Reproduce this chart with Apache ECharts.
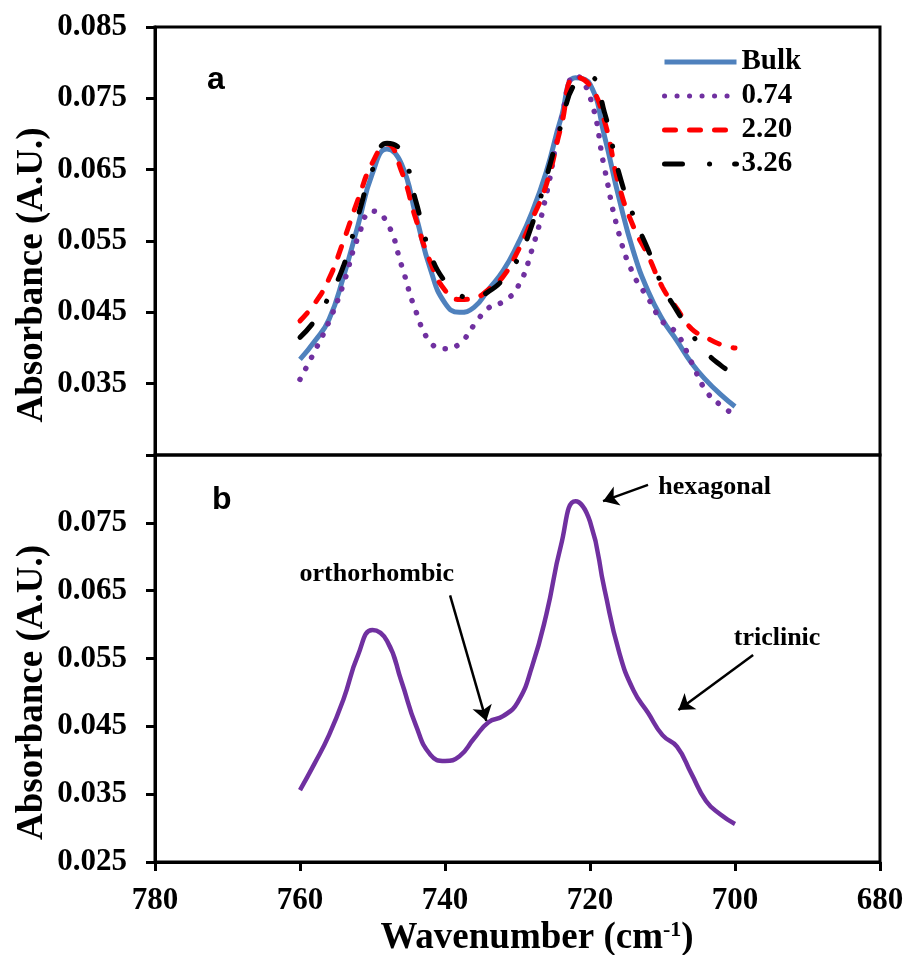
<!DOCTYPE html>
<html>
<head>
<meta charset="utf-8">
<script src="https://cdn.jsdelivr.net/npm/echarts@6/dist/echarts.min.js"></script>
<style>
  html, body { margin: 0; padding: 0; background: #fff; }
  #chart { width: 907px; height: 955px; }
</style>
</head>
<body>
<div id="chart"></div>
<script>
// Wavenumber grid (cm-1) shared by every spectrum
const wavenumbers = [760, 758, 756, 754, 752, 750, 748, 746, 744, 742, 740, 738, 736, 734, 732, 730,
                     728, 726, 724, 722, 720, 718, 716, 714, 712, 710, 708, 706, 704, 702, 700];

// Absorbance of each sample
const bulk = [0.0384, 0.0409, 0.0440, 0.0500, 0.0572, 0.0645, 0.0679, 0.0658, 0.0585, 0.0510, 0.0463,
              0.0450, 0.0457, 0.0482, 0.0508, 0.0545, 0.0590, 0.0648, 0.0722, 0.0779, 0.0770, 0.0697,
              0.0610, 0.0535, 0.0480, 0.0440, 0.0410, 0.0379, 0.0355, 0.0335, 0.0318];
const s074 = [0.0356, 0.0395, 0.0437, 0.0490, 0.0555, 0.0592, 0.0576, 0.0516, 0.0451, 0.0408, 0.0399,
              0.0406, 0.0432, 0.0456, 0.0465, 0.0485, 0.0538, 0.0616, 0.0717, 0.0782, 0.0752, 0.0652,
              0.0560, 0.0503, 0.0470, 0.0437, 0.0420, 0.0380, 0.0340, 0.0320, 0.0306];
const s220 = [0.0438, 0.0462, 0.0497, 0.0550, 0.0608, 0.0660, 0.0686, 0.0648, 0.0580, 0.0520, 0.0481,
              0.0468, 0.0470, 0.0482, 0.0500, 0.0535, 0.0580, 0.0630, 0.0710, 0.0780, 0.0768, 0.0718,
              0.0628, 0.0570, 0.0530, 0.0485, 0.0455, 0.0427, 0.0415, 0.0405, 0.0400];
const s326 = [0.0415, 0.0438, 0.0472, 0.0515, 0.0585, 0.0650, 0.0687, 0.0675, 0.0605, 0.0532, 0.0493,
              0.0474, 0.0470, 0.0479, 0.0496, 0.0524, 0.0573, 0.0640, 0.0712, 0.0772, 0.0780, 0.0730,
              0.0645, 0.0585, 0.0538, 0.0487, 0.0452, 0.0420, 0.0394, 0.0376, 0.0362];

const seriesNames = ['Bulk', '0.74', '2.20', '3.26'];

// Axis ticks
const xTicks = [780, 760, 740, 720, 700, 680];
const yTicks = [0.025, 0.035, 0.045, 0.055, 0.065, 0.075, 0.085];

// Crystal phase annotations for panel b
const phaseNames = ['hexagonal', 'orthorhombic', 'triclinic'];
const phaseLabelAt = [[702.8, 0.0803], [749.4, 0.0674], [694.2, 0.0580]];
const arrowFrom = [[712.0, 0.0806], [739.3, 0.0643], [697.5, 0.0555]];
const arrowTo = [[718.2, 0.0782], [734.3, 0.0458], [707.8, 0.0474]];

const SERIF = 'Liberation Serif, Times New Roman, serif';
const toPairs = (ys) => wavenumbers.map((w, i) => [w, ys[i]]);

const xStep = xTicks[0] - xTicks[1];
const yStep = +(yTicks[1] - yTicks[0]).toFixed(4);
const tickFont = { color: '#000', fontFamily: SERIF, fontWeight: 'bold', fontSize: 31 };
const axisLineStyle = { color: '#000', width: 3 };

function yAxisFor(gridIndex, hidden) {
  return {
    type: 'value', gridIndex,
    min: yTicks[0], max: yTicks[yTicks.length - 1], interval: yStep,
    axisLine: { show: true, lineStyle: axisLineStyle },
    axisTick: { show: true, inside: false, length: 9, lineStyle: axisLineStyle },
    splitLine: { show: false },
    axisLabel: Object.assign({
      margin: 28,
      formatter: (v) => (Math.abs(v - hidden) < 1e-6 ? '' : v.toFixed(3))
    }, tickFont),
    name: 'Absorbance (A.U.)',
    nameLocation: 'middle', nameRotate: 90, nameGap: 104,
    nameMoveOverlap: false,
    nameTextStyle: { color: '#000', fontFamily: SERIF, fontWeight: 'bold', fontSize: 37, padding: [0, 68, 0, 0] }
  };
}

const chart = echarts.init(document.getElementById('chart'), null, { renderer: 'canvas' });

const lineCommon = { type: 'line', smooth: 0.5, symbol: 'none', showSymbol: false, silent: true, xAxisIndex: 0, yAxisIndex: 0 };

chart.setOption({
  animation: false,
  backgroundColor: '#fff',
  grid: [
    { left: 155, top: 27, width: 725, height: 428, show: true, borderColor: '#000', borderWidth: 3, outerBoundsMode: 'none' },
    { left: 155, top: 455, width: 725, height: 407, show: true, borderColor: '#000', borderWidth: 3, outerBoundsMode: 'none' }
  ],
  xAxis: [
    {
      type: 'value', gridIndex: 0, inverse: true,
      min: xTicks[xTicks.length - 1], max: xTicks[0], interval: xStep,
      axisLine: { show: false }, axisTick: { show: false }, axisLabel: { show: false }, splitLine: { show: false }
    },
    {
      type: 'value', gridIndex: 1, inverse: true,
      min: xTicks[xTicks.length - 1], max: xTicks[0], interval: xStep,
      axisLine: { show: true, onZero: false, lineStyle: axisLineStyle },
      axisTick: { show: true, inside: false, length: 9, lineStyle: axisLineStyle },
      splitLine: { show: false },
      axisLabel: Object.assign({ margin: 23 }, tickFont),
      name: 'Wavenumber (cm{sup|-1})',
      nameLocation: 'middle', nameGap: 57,
      nameMoveOverlap: false,
      nameTextStyle: {
        color: '#000', fontFamily: SERIF, fontWeight: 'bold', fontSize: 37,
        verticalAlign: 'top', padding: [0, 0, 0, 39],
        rich: {
          sup: { fontFamily: SERIF, fontWeight: 'bold', fontSize: 22, color: '#000', verticalAlign: 'top', padding: [0, 0, 16, 0] }
        }
      }
    }
  ],
  yAxis: [yAxisFor(0, yTicks[0]), yAxisFor(1, yTicks[yTicks.length - 1])],
  legend: {
    data: seriesNames,
    orient: 'vertical', left: 662, top: 45, padding: 0,
    itemWidth: 72, itemHeight: 14, itemGap: 0,
    selectedMode: false,
    itemStyle: { opacity: 0, borderWidth: 0 },
    lineStyle: { width: 5 },
    textStyle: { color: '#000', fontFamily: SERIF, fontWeight: 'bold', fontSize: 29, lineHeight: 34 }
  },
  graphic: [
    { type: 'text', left: 207, top: 64, style: { text: 'a', fill: '#000', font: 'bold 32px Liberation Sans, Arial, sans-serif' } },
    { type: 'text', left: 212, top: 484, style: { text: 'b', fill: '#000', font: 'bold 32px Liberation Sans, Arial, sans-serif' } }
  ],
  series: [
    Object.assign({}, lineCommon, {
      name: seriesNames[0], data: toPairs(bulk), z: 2,
      lineStyle: { color: '#4F81BD', width: 5 }, itemStyle: { color: '#4F81BD' }
    }),
    Object.assign({}, lineCommon, {
      name: seriesNames[1], data: toPairs(s074), z: 3,
      lineStyle: { color: '#7030A0', width: 5.5, type: [0.1, 12.4], cap: 'round' }, itemStyle: { color: '#7030A0' }
    }),
    Object.assign({}, lineCommon, {
      name: seriesNames[2], data: toPairs(s220), z: 4,
      lineStyle: { color: '#FF0000', width: 5, type: [11, 14], cap: 'round' }, itemStyle: { color: '#FF0000' }
    }),
    Object.assign({}, lineCommon, {
      name: seriesNames[3], data: toPairs(s326), z: 5,
      lineStyle: { color: '#000000', width: 5, type: [18, 27, 0.1, 25], cap: 'round' }, itemStyle: { color: '#000000' }
    }),
    Object.assign({}, lineCommon, {
      name: 'panel b', xAxisIndex: 1, yAxisIndex: 1, data: toPairs(s074),
      lineStyle: { color: '#7030A0', width: 4.5 }, itemStyle: { color: '#7030A0' }
    }),
    {
      type: 'scatter', name: 'phases', xAxisIndex: 1, yAxisIndex: 1, silent: true,
      symbolSize: 0, itemStyle: { color: '#000', opacity: 1 },
      data: phaseNames.map((n, i) => ({ name: n, value: phaseLabelAt[i] })),
      label: {
        show: true, position: 'inside', formatter: '{b}', opacity: 1,
        color: '#000', textBorderWidth: 0, textBorderColor: 'transparent',
        fontFamily: SERIF, fontWeight: 'bold', fontSize: 26
      },
      markLine: {
        silent: true, symbol: ['none', 'arrow'], symbolSize: 15,
        label: { show: false },
        lineStyle: { color: '#000', width: 2.5, type: 'solid', opacity: 1 },
        data: phaseNames.map((n, i) => [{ coord: arrowFrom[i] }, { coord: arrowTo[i] }])
      }
    }
  ]
});
</script>
</body>
</html>
